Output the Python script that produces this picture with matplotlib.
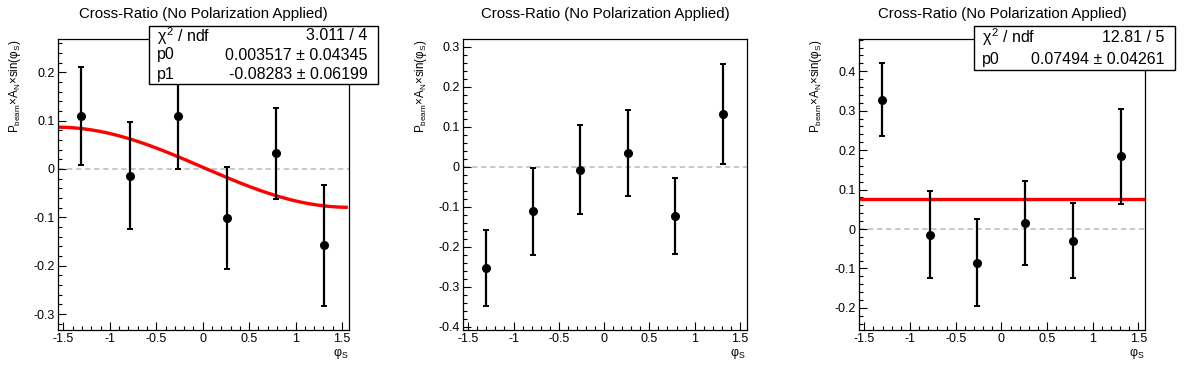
import numpy as np
import matplotlib
matplotlib.use("Agg")
import matplotlib.pyplot as plt
from matplotlib.ticker import MultipleLocator, FuncFormatter
from matplotlib.patches import Rectangle

plt.rcParams['font.family'] = ['Liberation Sans', 'DejaVu Sans']
plt.rcParams['mathtext.fontset'] = 'custom'
plt.rcParams['mathtext.rm'] = 'Liberation Sans'
plt.rcParams['mathtext.it'] = 'Liberation Sans'
plt.rcParams['mathtext.bf'] = 'Liberation Sans:bold'
plt.rcParams['axes.unicode_minus'] = False

# ---------------- data ----------------
phi_s = [-1.309, -0.785, -0.262, 0.262, 0.785, 1.309]

left_vals = [0.109, -0.014, 0.109, -0.102, 0.032, -0.158]
left_errs = [0.101, 0.111, 0.109, 0.105, 0.094, 0.125]

mid_vals = [-0.253, -0.111, -0.007, 0.034, -0.123, 0.132]
mid_errs = [0.096, 0.109, 0.111, 0.107, 0.094, 0.126]

right_vals = [0.328, -0.014, -0.085, 0.015, -0.030, 0.184]
right_errs = [0.092, 0.110, 0.110, 0.106, 0.095, 0.121]

fit_left_p0 = 0.003517
fit_left_p1 = -0.08283
fit_right_p0 = 0.07494

title = "Cross-Ratio (No Polarization Applied)"
ylabel = r"$P_{\mathrm{beam}}$×$A_{N}$×sin($φ_{S}$)"
xlabel = r"$φ_{S}$"

stats_left = [(r"$\chi^{2}$ / ndf", "3.011 / 4"),
              ("p0", "0.003517 ± 0.04345"),
              ("p1", "-0.08283 ± 0.06199")]
stats_right = [(r"$\chi^{2}$ / ndf", "12.81 / 5"),
               ("p0", "0.07494 ± 0.04261")]

# ---------------- layout ----------------
W, H = 1196, 372
fig = plt.figure(figsize=(W / 100, H / 100), dpi=100)

def fx(px):
    return px / W

def fy(py):
    return 1 - py / H

top_px, bot_px = 39.3, 330.0
panels = [
    dict(l=58.3, r=349.0, ylim=(-0.333, 0.268), vals=left_vals, errs=left_errs,
         ylab_x=15, stats=stats_left, box=(149.3, 378.3, 26, 84)),
    dict(l=463.3, r=746.7, ylim=(-0.408, 0.3185), vals=mid_vals, errs=mid_errs,
         ylab_x=421, stats=None, box=None),
    dict(l=859.3, r=1145.3, ylim=(-0.256, 0.481), vals=right_vals, errs=right_errs,
         ylab_x=816, stats=stats_right, box=(974.3, 1175.3, 26, 70.3)),
]
xlim = (-1.555, 1.575)

def fmt(v, pos):
    if abs(v) < 1e-9:
        return "0"
    return "%g" % round(v, 3)

for i, p in enumerate(panels):
    ax = fig.add_axes([fx(p['l']), fy(bot_px), fx(p['r'] - p['l']), (bot_px - top_px) / H])
    ax.set_xlim(*xlim)
    ax.set_ylim(*p['ylim'])

    # zero line
    ax.axhline(0, color='#c4c4c4', lw=1.3, ls=(0, (3, 2)), zorder=1)

    # fits
    if i == 0:
        xf = np.linspace(xlim[0], 1.545, 300)
        ax.plot(xf, fit_left_p0 + fit_left_p1 * np.sin(xf), color='#ff0000', lw=2.4, zorder=2)
    if i == 2:
        ax.plot([xlim[0], 1.555], [fit_right_p0, fit_right_p0], color='#ff0000', lw=2.4, zorder=2)

    ax.errorbar(phi_s, p['vals'], yerr=p['errs'], fmt='o', color='black', ms=5.5,
                elinewidth=1.6, capsize=2.2, capthick=1.4, zorder=3)

    for s in ax.spines.values():
        s.set_linewidth(0.9)
    ax.xaxis.set_major_locator(MultipleLocator(0.5))
    ax.xaxis.set_minor_locator(MultipleLocator(0.1))
    ax.yaxis.set_major_locator(MultipleLocator(0.1))
    ax.yaxis.set_minor_locator(MultipleLocator(0.02))
    ax.xaxis.set_major_formatter(FuncFormatter(fmt))
    ax.yaxis.set_major_formatter(FuncFormatter(fmt))
    ax.tick_params(which='both', direction='in', top=False, right=False, width=0.8,
                   labelsize=9, pad=2.5)
    ax.tick_params(axis='x', which='major', pad=2)
    ax.tick_params(which='major', length=6)
    ax.tick_params(which='minor', length=3)

    # title
    fig.text(fx((p['l'] + p['r']) / 2), fy(14), title, ha='center', va='center', fontsize=10.8)
    # y label (right aligned to top of axis)
    fig.text(fx(p['ylab_x']), fy(top_px), ylabel, rotation=90, ha='center', va='top', fontsize=8.4)
    # x label
    fig.text(fx(p['r'] - 1), fy(354), xlabel, ha='right', va='center', fontsize=9)

    # stats box
    if p['stats'] is not None:
        x0, x1, y0, y1 = p['box']
        fig.patches.append(Rectangle((fx(x0), fy(y1)), fx(x1 - x0), (y1 - y0) / H,
                                     transform=fig.transFigure, facecolor='white',
                                     edgecolor='black', lw=1.0, zorder=5))
        n = len(p['stats'])
        rh = (y1 - y0) / n
        for k, (lab, val) in enumerate(p['stats']):
            yc = y0 + rh * (k + 0.5)
            fig.text(fx(x0 + 8), fy(yc), lab, ha='left', va='center', fontsize=11.5, zorder=6)
            fig.text(fx(x1 - 11), fy(yc), val, ha='right', va='center', fontsize=11.5, zorder=6)

fig.savefig("out.png", dpi=100)
